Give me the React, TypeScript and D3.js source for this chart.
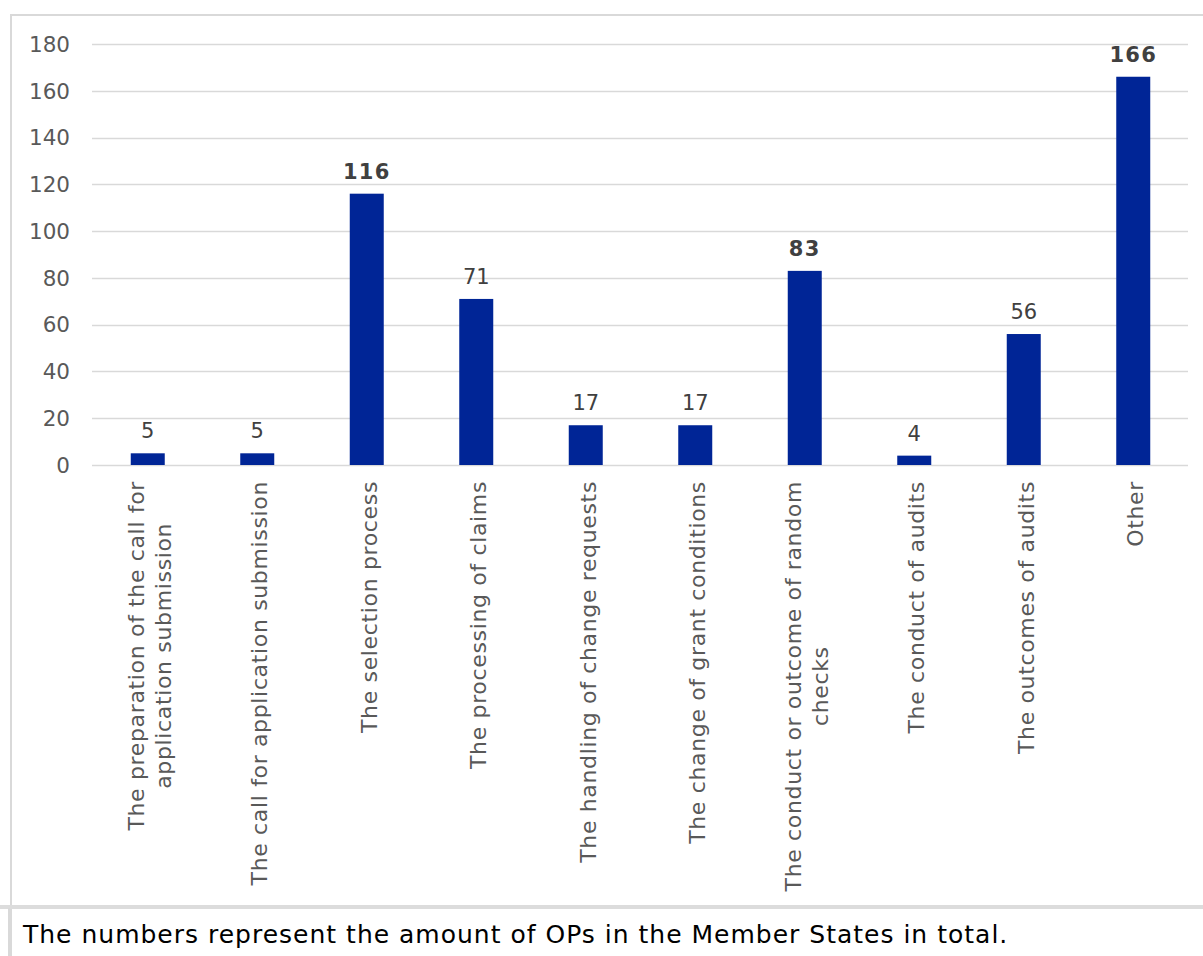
import { useEffect, useRef } from "react";
import * as d3 from "d3";

const WIDTH = 1203;
const HEIGHT = 956;
const PLOT = { left: 93, right: 1188, top: 44, bottom: 465 };

const categories: string[][] = [
  ["The preparation of the call for", "application submission"],
  ["The call for application submission"],
  ["The selection process"],
  ["The processing of claims"],
  ["The handling of change requests"],
  ["The change of grant conditions"],
  ["The conduct or outcome of random", "checks"],
  ["The conduct of audits"],
  ["The outcomes of audits"],
  ["Other"],
];
const values = [5, 5, 116, 71, 17, 17, 83, 4, 56, 166];
const boldValues = [false, false, true, false, false, false, true, false, false, true];
const yTicks = [0, 20, 40, 60, 80, 100, 120, 140, 160, 180];
const caption = "The numbers represent the amount of OPs in the Member States in total.";

const FONT = "'DejaVu Sans', Verdana, sans-serif";
const BAR_COLOR = "#002596";
const GRID = "#d9d9d9";

export default function App() {
  const svgRef = useRef<SVGSVGElement>(null);

  useEffect(() => {
    if (!svgRef.current) return;
    const svg = d3.select(svgRef.current);
    svg.selectAll("*").remove();

    const idx = categories.map((_, i) => i);
    const x = d3
      .scaleBand<number>()
      .domain(idx)
      .range([PLOT.left, PLOT.right])
      .paddingInner(0.69)
      .paddingOuter(0.345);
    const y = d3.scaleLinear().domain([0, 180]).range([PLOT.bottom, PLOT.top]);

    svg.append("rect").attr("width", WIDTH).attr("height", HEIGHT).attr("fill", "white");

    // chart frame
    svg
      .append("path")
      .attr("d", `M11,${HEIGHT} V15 H${WIDTH + 5}`)
      .attr("fill", "none")
      .attr("stroke", GRID)
      .attr("stroke-width", 2);

    // gridlines
    svg
      .append("g")
      .selectAll("line")
      .data(yTicks)
      .join("line")
      .attr("x1", PLOT.left - 1)
      .attr("x2", PLOT.right)
      .attr("y1", (d) => Math.round(y(d)) + 0.5)
      .attr("y2", (d) => Math.round(y(d)) + 0.5)
      .attr("stroke", GRID)
      .attr("stroke-width", 1.3);

    svg
      .append("g")
      .selectAll("text")
      .data(yTicks)
      .join("text")
      .attr("x", 70)
      .attr("y", (d) => y(d))
      .attr("dy", "0.36em")
      .attr("text-anchor", "end")
      .attr("font-family", FONT)
      .attr("font-size", 21.5)
      .attr("fill", "#595959")
      .text((d) => d);

    // bars
    const bw = 34;
    svg
      .append("g")
      .selectAll("rect")
      .data(values)
      .join("rect")
      .attr("x", (_, i) => (x(i) ?? 0) + x.bandwidth() / 2 - bw / 2)
      .attr("width", bw)
      .attr("y", (d) => y(d))
      .attr("height", (d) => y(0) - y(d))
      .attr("fill", BAR_COLOR);

    // value labels
    svg
      .append("g")
      .selectAll("text")
      .data(values)
      .join("text")
      .attr("x", (_, i) => (x(i) ?? 0) + x.bandwidth() / 2)
      .attr("y", (d) => y(d) - 15)
      .attr("text-anchor", "middle")
      .attr("font-family", FONT)
      .attr("font-size", 21)
      .attr("font-weight", (_, i) => (boldValues[i] ? "bold" : "normal"))
      .attr("letter-spacing", (_, i) => (boldValues[i] ? 1.3 : 0))
      .attr("fill", "#404040")
      .text((d) => d);

    // category labels, rotated
    const lineH = 27;
    categories.forEach((lines, i) => {
      const cx = (x(i) ?? 0) + x.bandwidth() / 2;
      const g = svg
        .append("g")
        .attr("transform", `translate(${cx},481) rotate(-90)`);
      const texts = lines.map((line, j) =>
        g
          .append("text")
          .attr("y", 10 + (j - (lines.length - 1) / 2) * lineH)
          .attr("font-family", FONT)
          .attr("font-size", 22)
          .attr("letter-spacing", 0.65)
          .attr("fill", "#595959")
          .text(line)
      );
      const widths = texts.map((t) => (t.node() as SVGTextElement).getComputedTextLength());
      const w = d3.max(widths) ?? 0;
      texts.forEach((t) => t.attr("x", -w / 2).attr("text-anchor", "middle"));
    });

    // caption box
    svg
      .append("rect")
      .attr("x", 0)
      .attr("y", 905)
      .attr("width", WIDTH)
      .attr("height", 4)
      .attr("fill", "#dcdcdc");
    svg
      .append("path")
      .attr("d", `M9,${HEIGHT} V908`)
      .attr("stroke", GRID)
      .attr("stroke-width", 2);
    svg
      .append("text")
      .attr("x", 23)
      .attr("y", 943)
      .attr("font-family", FONT)
      .attr("font-size", 25)
      .attr("letter-spacing", 1)
      .attr("fill", "#000")
      .text(caption);
  }, []);

  return (
    <div style={{ position: "absolute", left: 0, top: 0, width: WIDTH, height: HEIGHT }}>
      <svg ref={svgRef} width={WIDTH} height={HEIGHT} style={{ display: "block" }} />
    </div>
  );
}
